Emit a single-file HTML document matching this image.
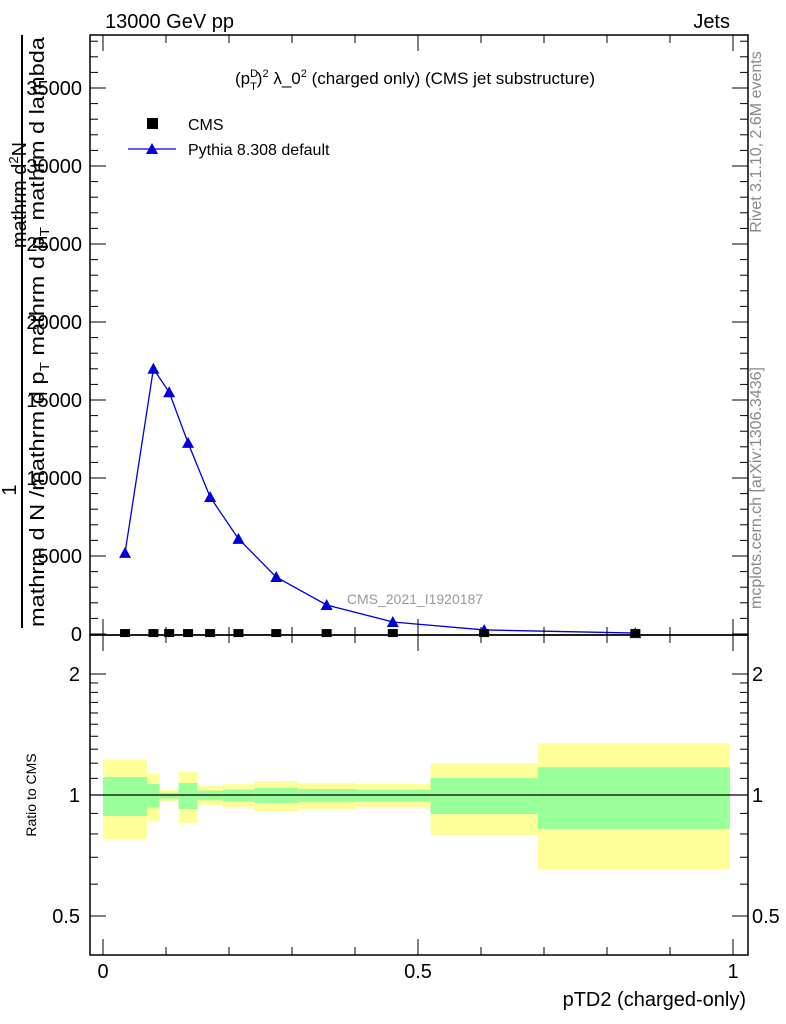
<!DOCTYPE html>
<html><head><meta charset="utf-8"><style>
body{margin:0;background:#fff;}
svg{display:block;font-family:"Liberation Sans",sans-serif;}
</style></head><body>
<svg id="c" width="786" height="1024" xmlns="http://www.w3.org/2000/svg">
<g id="bands"></g>
<g id="marks"></g>
<g id="axes"></g>
<text x="105" y="28" font-size="20">13000 GeV pp</text>
<text x="730" y="28" font-size="20" text-anchor="end">Jets</text>
<text x="415" y="84" font-size="17" text-anchor="middle">(p<tspan font-size="11" dy="-7">D</tspan><tspan font-size="11" dx="-8" dy="13">T</tspan><tspan dy="-6">)</tspan><tspan font-size="11" dy="-7">2</tspan><tspan dy="7"> λ_0</tspan><tspan font-size="11" dy="-7">2</tspan><tspan dy="7"> (charged only) (CMS jet substructure)</tspan></text>
<rect x="147" y="118" width="11" height="11" fill="#000"/>
<text x="188" y="130" font-size="16">CMS</text>
<line x1="128" y1="149" x2="176" y2="149" stroke="#0000dd" stroke-width="1.3"/>
<polygon points="152,143 146,154 158,154" fill="#0000dd"/>
<text x="188" y="155" font-size="16">Pythia 8.308 default</text>
<text x="415" y="604" font-size="14" fill="#999" text-anchor="middle">CMS_2021_I1920187</text>
<text transform="translate(761,142) rotate(-90)" font-size="16" fill="#888" text-anchor="middle">Rivet 3.1.10,  2.6M events</text>
<text transform="translate(761,488) rotate(-90)" font-size="16" fill="#888" text-anchor="middle">mcplots.cern.ch [arXiv:1306.3436]</text>
<g>
<text transform="translate(26,195) rotate(-90)" font-size="20" text-anchor="middle">mathrm d<tspan font-size="13" dy="-8">2</tspan><tspan dy="8">N</tspan></text>
<line x1="22" y1="35" x2="22" y2="628" stroke="#000" stroke-width="2"/>
<text transform="translate(16,490) rotate(-90)" font-size="20" text-anchor="middle">1</text>
<text transform="translate(44,332) rotate(-90)" font-size="20" text-anchor="middle" textLength="590" lengthAdjust="spacingAndGlyphs">mathrm d N /mathrm d p<tspan font-size="13" dy="5">T</tspan><tspan dy="-5"> mathrm d p</tspan><tspan font-size="13" dy="5">T</tspan><tspan dy="-5"> mathrm d lambda</tspan></text>
</g>
<text transform="translate(36,795) rotate(-90)" font-size="14" text-anchor="middle">Ratio to CMS</text>
<text x="746" y="1006" font-size="20" text-anchor="end">pTD2 (charged-only)</text>
</svg>
<script>
const binEdges=[0,0.07,0.09,0.12,0.15,0.19,0.24,0.31,0.40,0.52,0.69,0.995];
const binCenters=[0.035,0.08,0.105,0.135,0.17,0.215,0.275,0.355,0.46,0.605,0.845];
const pythiaValues=[5200,17000,15500,12250,8780,6100,3650,1860,770,260,60];
const cmsValues=[60,60,60,60,60,60,60,60,60,60,60];
const yellowHi=[1.222,1.132,1.029,1.14,1.053,1.063,1.083,1.071,1.065,1.199,1.345];
const yellowLo=[0.777,0.862,0.966,0.852,0.943,0.934,0.912,0.923,0.934,0.795,0.652];
const greenHi=[1.109,1.065,1.013,1.071,1.025,1.031,1.041,1.035,1.031,1.102,1.172];
const greenLo=[0.887,0.930,0.98,0.923,0.97,0.964,0.955,0.961,0.964,0.897,0.823];
const mainTicks=[0,5000,10000,15000,20000,25000,30000,35000];
const ratioTicks=[0.5,1,2];
const xTicks=[0,0.5,1];

const NS="http://www.w3.org/2000/svg";
const L=90,R=748,T=35,M=635,B=955;
const X=v=>103+v*630;
const Y=v=>634-v*78/5000;
const RY=v=>795-Math.log2(v)*121;
function mk(tag,attrs,parent){const e=document.createElementNS(NS,tag);for(const k in attrs)e.setAttribute(k,attrs[k]);parent.appendChild(e);return e;}
const bands=document.getElementById('bands'),marks=document.getElementById('marks'),axes=document.getElementById('axes');
for(let i=0;i<binCenters.length;i++){
  const x1=X(binEdges[i]),x2=X(binEdges[i+1]);
  let r=mk('rect',{x:x1,y:RY(yellowHi[i]),width:x2-x1,height:RY(yellowLo[i])-RY(yellowHi[i]),fill:'#ffff99'},bands);
  
  
  r=mk('rect',{x:x1,y:RY(greenHi[i]),width:x2-x1,height:RY(greenLo[i])-RY(greenHi[i]),fill:'#99ff99'},bands);
  
  
}
let ln=mk('line',{x1:L,x2:R,y1:RY(1),y2:RY(1),stroke:'#000','stroke-width':1.3},bands);


const pts=binCenters.map((c,i)=>X(c)+','+Y(pythiaValues[i])).join(' ');
let pl=mk('polyline',{points:pts,fill:'none',stroke:'#0000dd','stroke-width':1.3},marks);


binCenters.forEach((c,i)=>{
  const x=X(c),y=Y(pythiaValues[i]);
  let p=mk('polygon',{points:`${x},${y-6} ${x-6},${y+5} ${x+6},${y+5}`,fill:'#0000dd'},marks);
  
  
  const cy=Y(cmsValues[i]);
  let s=mk('rect',{x:x-5,y:cy-4,width:10,height:8,fill:'#000'},marks);
  
  
});
mk('rect',{x:L,y:T,width:R-L,height:M-T,fill:'none',stroke:'#000','stroke-width':1.5},axes);
mk('rect',{x:L,y:M,width:R-L,height:B-M,fill:'none',stroke:'#000','stroke-width':1.5},axes);
for(let v=0;v<=38000;v+=1000){const y=Y(v);const major=v%5000===0;const len=major?16:8;
  mk('line',{x1:L,x2:L+len,y1:y,y2:y,stroke:'#000'},axes);mk('line',{x1:R,x2:R-len,y1:y,y2:y,stroke:'#000'},axes);}
mainTicks.forEach(v=>{const t=mk('text',{x:82,y:Y(v)+7,'font-size':20,'text-anchor':'end'},axes);t.textContent=v;
  
  });
for(let k=0;k<=10;k++){const v=k/10,x=X(v);const major=k%5===0;const len=major?16:8;
  mk('line',{x1:x,x2:x,y1:M,y2:M-len,stroke:'#000'},axes);
  mk('line',{x1:x,x2:x,y1:B,y2:B-len,stroke:'#000'},axes);
  mk('line',{x1:x,x2:x,y1:T,y2:T+len,stroke:'#000'},axes);mk('line',{x1:x,x2:x,y1:M,y2:M+len,stroke:'#000'},axes);}
xTicks.forEach(v=>{const t=mk('text',{x:X(v),y:978,'font-size':20,'text-anchor':'middle'},axes);t.textContent=v;
  
  });
[0.5,0.6,0.7,0.8,0.9,1,1.1,1.2,1.3,1.4,1.5,1.6,1.7,1.8,1.9,2].forEach(v=>{const y=RY(v);const major=ratioTicks.includes(v);const len=major?16:8;
  mk('line',{x1:L,x2:L+len,y1:y,y2:y,stroke:'#000'},axes);mk('line',{x1:R,x2:R-len,y1:y,y2:y,stroke:'#000'},axes);});
ratioTicks.forEach(v=>{let t=mk('text',{x:80,y:RY(v)+7,'font-size':20,'text-anchor':'end'},axes);t.textContent=v;
  
  
  t=mk('text',{x:752,y:RY(v)+7,'font-size':20},axes);t.textContent=v;
  
  });
</script>
</body></html>
